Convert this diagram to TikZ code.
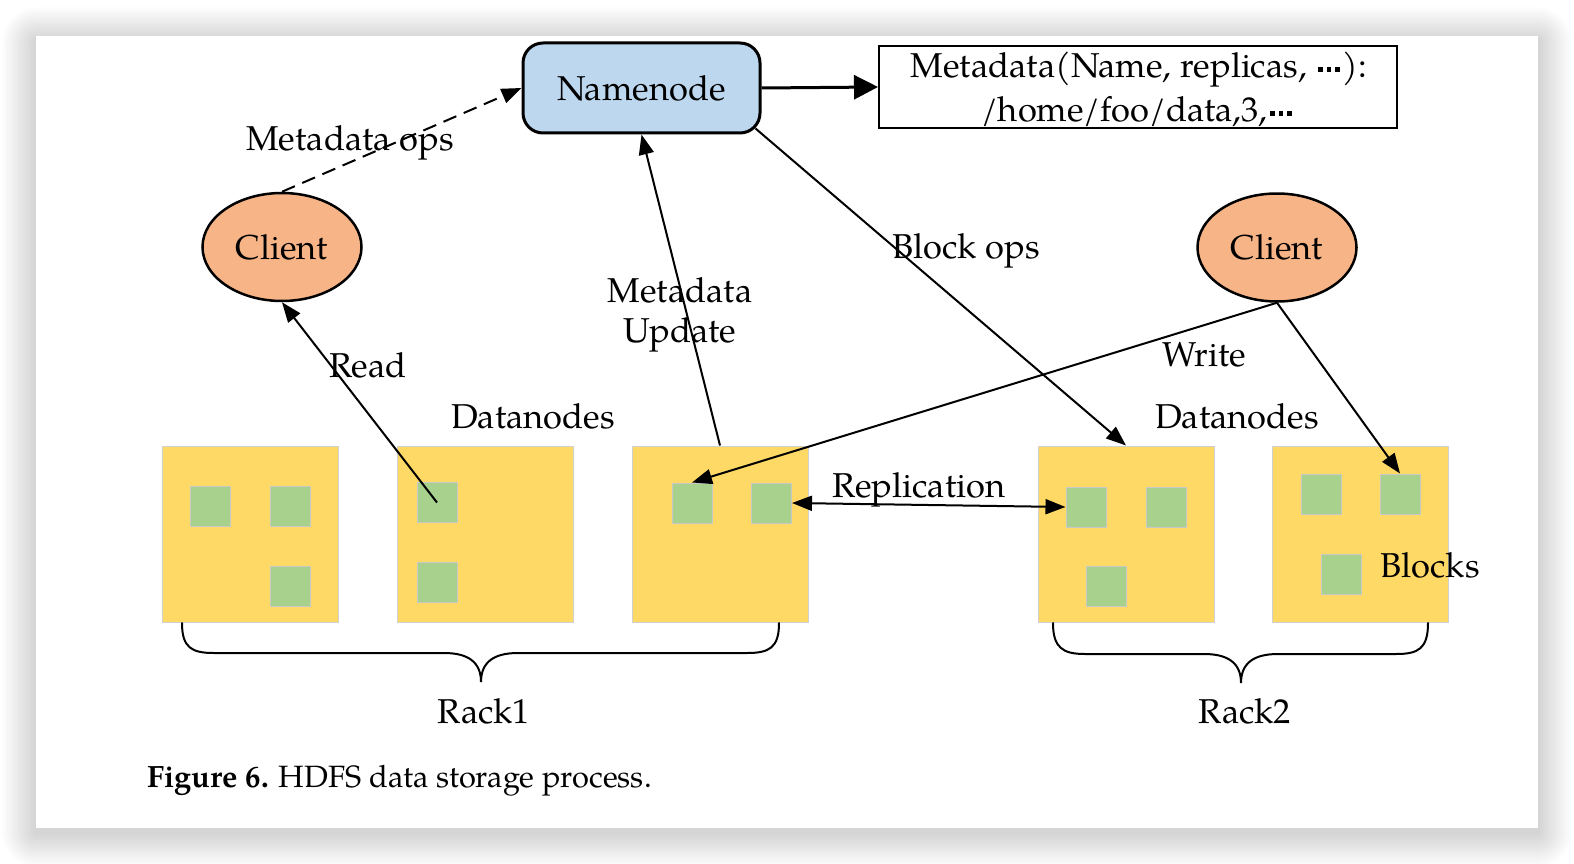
\documentclass[tikz,border=0pt]{standalone}
\usepackage{fontspec}
\setmainfont{TeX Gyre Pagella}
\usetikzlibrary{arrows.meta,shapes.geometric,calc}
\definecolor{nnfill}{HTML}{BDD7EE}
\definecolor{clientfill}{HTML}{F7B587}
\definecolor{dnyellow}{HTML}{FFD966}
\definecolor{dnedge}{HTML}{D0D0D0}
\definecolor{blkgreen}{HTML}{A9D18E}
\definecolor{blkedge}{HTML}{C8C8C8}
\newcommand\heavydots{\kern3pt\rule[6pt]{4.6pt}{4.6pt}\kern3.8pt\rule[6pt]{4.6pt}{4.6pt}\kern3.8pt\rule[6pt]{4.6pt}{4.6pt}\kern3pt}
\begin{document}
\begin{tikzpicture}[x=1pt,y=-1pt,
  every node/.style={font=\fontsize{34.5}{42}\selectfont, inner sep=0pt},
  lbl/.style={anchor=base},
  dn/.style={rectangle, fill=dnyellow, draw=dnedge, line width=1pt, minimum width=176pt, minimum height=176pt},
  blk/.style={rectangle, fill=blkgreen, draw=blkedge, line width=1pt, minimum width=40pt, minimum height=40pt},
  client/.style={ellipse, fill=clientfill, draw=black, line width=2.5pt, minimum width=159pt, minimum height=108pt},
  arr/.style={line width=2pt, -{Triangle[length=20pt,width=15pt]}},
  bracepath/.style={line width=2pt, line cap=round}
]
\useasboundingbox (0,0) rectangle (1574,864);
% background and card shadow
\fill[white] (0,0) rectangle (1574,864);
\foreach \i in {1,...,14}{
  \fill[black, opacity=0.011, rounded corners=\i*2.5pt] ({36-\i*2.4},{36-\i*2.4+5}) rectangle ({1538+\i*2.4},{828+\i*2.4+5});
}
\fill[white] (36,36) rectangle (1538,828);

% Namenode and metadata box
\node[draw, line width=3pt, rounded corners=20pt, fill=nnfill, minimum width=237pt, minimum height=90pt] (nn) at (641.5,88) {Namenode};
\node[draw, line width=2pt, minimum width=518pt, minimum height=82pt] (mb) at (1138,87) {};
\node[lbl] (mb1) at (1139,78) {Metadata(Name, replicas, \heavydots):};
\node[lbl] (mb2) at (1138,122) {/home/foo/data,3,\heavydots};

% clients
\node[client] (c1) at (282,247) {Client};
\node[client] (c2) at (1277,247.5) {Client};

% datanodes
\node[dn] (b1) at (250,534) {};
\node[dn] (b2) at (485,534) {};
\node[dn] (b3) at (720,534) {};
\node[dn] (b4) at (1126,534) {};
\node[dn] (b5) at (1360.5,534) {};

% blocks
\node[blk] (g11) at (210.5,506.5) {};
\node[blk] (g12) at (290,506.5) {};
\node[blk] (g13) at (290,586) {};
\node[blk] (g21) at (437,502.5) {};
\node[blk] (g22) at (437,582.5) {};
\node[blk] (g31) at (692,503) {};
\node[blk] (g32) at (771.5,503) {};
\node[blk] (g41) at (1086,507) {};
\node[blk] (g42) at (1166,507) {};
\node[blk] (g43) at (1106,586) {};
\node[blk] (g51) at (1321,494) {};
\node[blk] (g52) at (1400,494) {};
\node[blk] (g53) at (1341,574) {};

% connectors
\coordinate (bo) at ($(nn.south east)+(-6,-6)$);
\draw[line width=3pt, -{Triangle[length=24pt,width=24pt]}] (nn.east) -- (mb.west);
\draw[line width=2pt, dash pattern=on 14pt off 8pt, -{Triangle[length=20pt,width=15pt]}] (c1.north) -- (nn.west);
\draw[arr] (g21.center) -- (c1.south);
\draw[arr] (b3.north) -- (nn.south);
\draw[arr] (bo) -- (b4.north);
\draw[arr] (c2.south) -- (g31.north);
\draw[arr] (c2.south) -- (g52.north);
\draw[line width=2pt, {Triangle[length=20pt,width=15pt]}-{Triangle[length=20pt,width=15pt]}] (g32.east) -- (g41.west);

% labels
\node[lbl] (lmo) at (350,150) {Metadata ops};
\node[lbl] (lbo) at (966,258) {Block ops};
\node[lbl] (lmu1) at (680,302) {Metadata};
\node[lbl] (lmu2) at (680,342) {Update};
\node[lbl] (lrd) at (368,377) {Read};
\node[lbl] (lwr) at (1204,366) {Write};
\node[lbl] (ld1) at (533,428) {Datanodes};
\node[lbl] (ld2) at (1237,428) {Datanodes};
\node[lbl] (lrep) at (919,497) {Replication};
\node[lbl] (lblk) at (1430,577) {Blocks};
\node[lbl] (r1) at (484,723) {Rack1};
\node[lbl] (r2) at (1245,723) {Rack2};

% braces
\draw[bracepath] (182,623) .. controls (182,648) and (192,653) .. (214,653) -- (444,653) .. controls (468,653) and (481,662) .. (481,682) .. controls (481,662) and (494,653) .. (518,653) -- (747,653) .. controls (769,653) and (779,648) .. (779,623);
\draw[bracepath] (1053,623) .. controls (1053,648) and (1063,654) .. (1085,654) -- (1204,654) .. controls (1228,654) and (1241,663) .. (1241,683) .. controls (1241,663) and (1254,654) .. (1278,654) -- (1396,654) .. controls (1418,654) and (1428,649) .. (1428,623);

% caption
\node[anchor=base west, font=\fontsize{30.8}{36}\selectfont] (cap) at (147,787) {\textbf{Figure 6.} HDFS data storage process.};
\end{tikzpicture}
\end{document}
